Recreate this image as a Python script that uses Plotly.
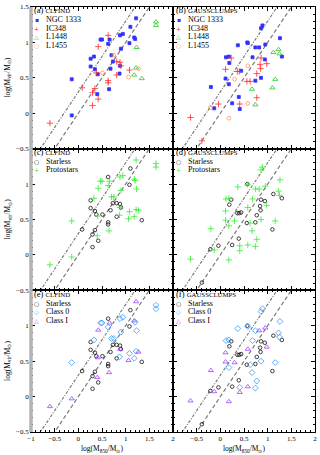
import plotly.graph_objects as go
from plotly.subplots import make_subplots

# ---- CLFIND cores: log M850, log Mvir, region, class ----
cf_x = [-0.14, -0.14, 0.26, 0.33, 0.26, 0.35, 0.40, 0.41, 0.47, 0.50, 0.63, 0.66, 0.65,
        0.70, 0.68, 0.73, 0.87, 0.88, 0.90, 0.88, 0.94, 1.10, 1.08, 1.18, 1.20, 1.22,
        -0.60, 0.08, 0.30, 0.30, 0.42, 0.35, 0.38, 0.42, 0.63, 0.63, 0.63, 0.81, 0.81,
        0.88, 0.90, 1.08,
        1.64, 1.64, 1.23, 1.18, 1.22, 1.34,
        0.75, 0.51, 1.06, 1.27]
cf_y = [0.48, -0.03, 0.77, 0.80, 0.66, 0.62, 0.27, 0.55, 1.04, 1.04, 0.98, 1.04, 0.34,
        0.82, 0.63, 0.73, 0.56, 0.67, 0.91, 1.10, 1.12, 1.22, 0.99, 1.07, 1.05, 1.34,
        -0.14, 0.36, 0.29, 0.11, 0.20, 0.35, 0.57, 0.94, 1.10, 0.46, 0.43, 0.54, 0.73,
        0.72, 0.67, 0.61,
        1.29, 1.24, 0.93, 0.54, 0.64, 0.49,
        0.82, 0.57, 0.51, 0.63]
cf_region = ["NGC 1333"] * 26 + ["IC348"] * 16 + ["L1448"] * 6 + ["L1455"] * 4
cf_class = ["0", "I", "S", "0", "S", "S", "I", "I", "0", "0", "0", "I", "I",
            "0", "S", "S", "0", "I", "0", "0", "0", "S", "S", "I", "0", "I",
            "I", "S", "S", "S", "S", "S", "S", "I", "S", "S", "S", "S", "S",
            "S", "S", "0",
            "0", "0", "0", "0", "0", "S",
            "0", "S", "I", "I"]

# ---- GAUSSCLUMPS cores ----
gc_x = [-0.20, -0.13, 0.11, 0.12, 0.18, 0.19, 0.18, 0.25, 0.37, 0.44, 0.39, 0.41, 0.58,
        0.57, 0.68, 0.74, 0.82, 0.74, 0.86, 0.86, 0.89, 0.95, 0.94, 1.26, 1.30,
        -0.63, -0.39, -0.04, 0.23, 0.11, 0.36, 0.40, 0.41, 0.56, 0.63, 0.77, 0.84, 0.85,
        0.86, 0.98, 0.77,
        1.23, 1.25, 1.12, 1.16, 1.10, 0.67, 0.74,
        0.58, 0.30, -0.21, 0.18, 0.58]
gc_y = [0.37, 0.07, 0.49, 0.79, 0.80, 0.71, 0.41, 0.14, 0.96, 0.60, 0.23, 0.06, 0.99,
        1.00, 0.79, 0.93, 0.93, 0.46, 0.50, 1.20, 1.24, 0.97, 0.76, 1.06, 0.80,
        -0.06, -0.39, 0.13, 0.78, 0.62, 0.59, 0.59, 0.13, 0.45, 0.45, 0.56, 0.69, 0.63,
        0.78, 0.70, 0.22,
        0.90, 0.84, 0.86, 0.48, 0.36, 0.34, 0.12,
        0.67, 0.48, 0.08, -0.07, 0.14]
gc_region = ["NGC 1333"] * 25 + ["IC348"] * 16 + ["L1448"] * 7 + ["L1455"] * 5
gc_class = ["I", "I", "I", "0", "0", "S", "0", "S", "0", "S", "S", "I", "0",
            "S", "0", "0", "I", "S", "0", "0", "0", "I", "S", "0", "S",
            "I", "S", "S", "S", "I", "S", "S", "0", "S", "0", "S", "S", "S",
            "S", "I", "0",
            "0", "0", "S", "0", "S", "0", "0",
            "I", "I", "S", "I", "I"]

regions = ["NGC 1333", "IC348", "L1448", "L1455"]
x_ticks = [-1, -0.5, 0, 0.5, 1, 1.5, 2]
x_ticktext = ["\u22121", "\u22120.5", "0", "0.5", "1", "1.5", "2"]
y_ticks = [-0.5, 0, 0.5, 1, 1.5]
y_ticktext = ["\u22120.5", "0", "0.5", "1", "1.5"]
virial_offsets = [0.0, 0.30103]   # Mvir = M850 and Mvir = 2 M850
line_x = [-1, 2]

FONT = "Liberation Serif"
styles = {
    "NGC 1333": dict(symbol="square", color="#3030ff", size=3, glyph="\u25aa"),
    "IC348": dict(symbol="cross-thin-open", color="#ff2a2a", size=4.5, glyph="+"),
    "L1448": dict(symbol="triangle-up-open", color="#22cc22", size=4.5, glyph="\u25b3"),
    "L1455": dict(symbol="circle-open", color="#ff9955", size=3.8, glyph="\u25cb"),
    "Starless": dict(symbol="circle-open", color="#111111", size=3.6, glyph="\u25cb"),
    "Protostars": dict(symbol="cross-thin-open", color="#33ee33", size=4.5, glyph="+"),
    "Class 0": dict(symbol="diamond-open", color="#3399ff", size=4.5, glyph="\u25c7"),
    "Class I": dict(symbol="triangle-up-open", color="#a040ff", size=4.5, glyph="\u25b3"),
}

fig = make_subplots(rows=3, cols=2, horizontal_spacing=0, vertical_spacing=0)


def add_group(xs, ys, name, row, col):
    st = styles[name]
    fig.add_trace(go.Scatter(
        x=xs, y=ys, mode="markers", showlegend=False, name=name,
        marker=dict(symbol=st["symbol"], size=st["size"], color=st["color"],
                    line=dict(width=0.8, color=st["color"])),
    ), row=row, col=col)


for col, (xs, ys, regs, cls) in enumerate(
        [(cf_x, cf_y, cf_region, cf_class), (gc_x, gc_y, gc_region, gc_class)], start=1):
    for row in (1, 2, 3):
        for off, dash in zip(virial_offsets, ["4px,2.5px", "3px,1.5px,1px,1.5px"]):
            fig.add_trace(go.Scatter(
                x=line_x, y=[v + off for v in line_x], mode="lines", showlegend=False,
                line=dict(color="#7a7a7a", width=1.2, dash=dash), hoverinfo="skip",
            ), row=row, col=col)
    # row 1: by region
    for reg in regions:
        idx = [i for i, r in enumerate(regs) if r == reg]
        add_group([xs[i] for i in idx], [ys[i] for i in idx], reg, 1, col)
    # row 2: starless vs protostars
    idx = [i for i, c in enumerate(cls) if c == "S"]
    add_group([xs[i] for i in idx], [ys[i] for i in idx], "Starless", 2, col)
    idx = [i for i, c in enumerate(cls) if c != "S"]
    add_group([xs[i] for i in idx], [ys[i] for i in idx], "Protostars", 2, col)
    # row 3: starless, class 0, class I
    for key, name in [("S", "Starless"), ("0", "Class 0"), ("I", "Class I")]:
        idx = [i for i, c in enumerate(cls) if c == key]
        add_group([xs[i] for i in idx], [ys[i] for i in idx], name, 3, col)

tickfont = dict(family=FONT, size=7, color="black")
for row in (1, 2, 3):
    for col in (1, 2):
        xt = [t if (row == 3 and not (col == 2 and v == -1)) else " " for v, t in zip(x_ticks, x_ticktext)]
        yt = [t if (col == 1 and not (row > 1 and v == 1.5)) else " " for v, t in zip(y_ticks, y_ticktext)]
        fig.update_xaxes(range=[-1, 2], tickmode="array", tickvals=x_ticks, ticktext=xt,
                         ticks="inside", ticklen=4, tickwidth=0.8, tickcolor="black",
                         minor=dict(tickmode="linear", tick0=0, dtick=0.1, ticks="inside",
                                    ticklen=2, tickwidth=0.6, tickcolor="black"),
                         showline=True, linecolor="black", linewidth=0.8, mirror="allticks",
                         showgrid=False, zeroline=False, tickfont=tickfont,
                         row=row, col=col)
        fig.update_yaxes(range=[-0.5, 1.5], tickmode="array", tickvals=y_ticks, ticktext=yt,
                         ticks="inside", ticklen=4, tickwidth=0.8, tickcolor="black",
                         minor=dict(tickmode="linear", tick0=0, dtick=0.1, ticks="inside",
                                    ticklen=2, tickwidth=0.6, tickcolor="black"),
                         showline=True, linecolor="black", linewidth=0.8, mirror="allticks",
                         showgrid=False, zeroline=False, tickfont=tickfont,
                         row=row, col=col)

# panel labels and legends
panel_titles = [["(a)", "CLFIND"], ["(b)", "GAUSSCLUMPS"], ["(c)", "CLFIND"],
                ["(d)", "GAUSSCLUMPS"], ["(e)", "CLFIND"], ["(f)", "GAUSSCLUMPS"]]
panel_keys = [regions, regions, ["Starless", "Protostars"], ["Starless", "Protostars"],
              ["Starless", "Class 0", "Class I"], ["Starless", "Class 0", "Class I"]]
annotations = []
for k in range(6):
    ax = "" if k == 0 else str(k + 1)
    xr, yr = "x%s domain" % ax, "y%s domain" % ax
    lab, meth = panel_titles[k]
    annotations.append(dict(
        x=0.008, y=0.976, xref=xr, yref=yr, xanchor="left", yanchor="middle", showarrow=False,
        text="%s <span style='font-size:6.8px'>%s</span>" % (lab, meth),
        font=dict(family=FONT, size=8.5, color="black")))
    for j, name in enumerate(panel_keys[k]):
        yy = 1 - (12.8 + 8.6 * j) / 143
        st = styles[name]
        annotations.append(dict(
            x=0.042, y=yy, xref=xr, yref=yr, xanchor="center", yanchor="middle", showarrow=False,
            text=st["glyph"], font=dict(family="DejaVu Sans", size=6, color=st["color"])))
        annotations.append(dict(
            x=0.095, y=yy, xref=xr, yref=yr, xanchor="left", yanchor="middle", showarrow=False,
            text=name, font=dict(family=FONT, size=8, color="black")))

ylab = "log(M<sub>vir</sub>/M<sub>\u2299</sub>)"
xlab = "log(M<sub>850</sub>/M<sub>\u2299</sub>)"
for yc in (5 / 6, 0.5, 1 / 6):
    annotations.append(dict(x=-0.082, y=yc, xref="paper", yref="paper", textangle=-90,
                            showarrow=False, text=ylab, xanchor="center", yanchor="middle",
                            font=dict(family=FONT, size=7.5, color="black")))
for xc in (0.25, 0.75):
    annotations.append(dict(x=xc, y=-0.04, xref="paper", yref="paper", showarrow=False,
                            text=xlab, xanchor="center", yanchor="middle",
                            font=dict(family=FONT, size=7.5, color="black")))

fig.update_layout(
    width=320, height=455,
    margin=dict(l=31, r=3, t=3, b=23),
    plot_bgcolor="white", paper_bgcolor="white",
    showlegend=False,
    annotations=annotations,
    # grey band along the outer left frame, as in the original figure
    shapes=[dict(type="line", xref="paper", yref="paper", x0=0, x1=0, y0=0, y1=1,
                 line=dict(color="#b4b4b4", width=3.5), layer="above")],
)

fig.write_html("out.html", config={"displayModeBar": False},
               post_script="document.body.style.margin='0';document.body.style.overflow='hidden';")
